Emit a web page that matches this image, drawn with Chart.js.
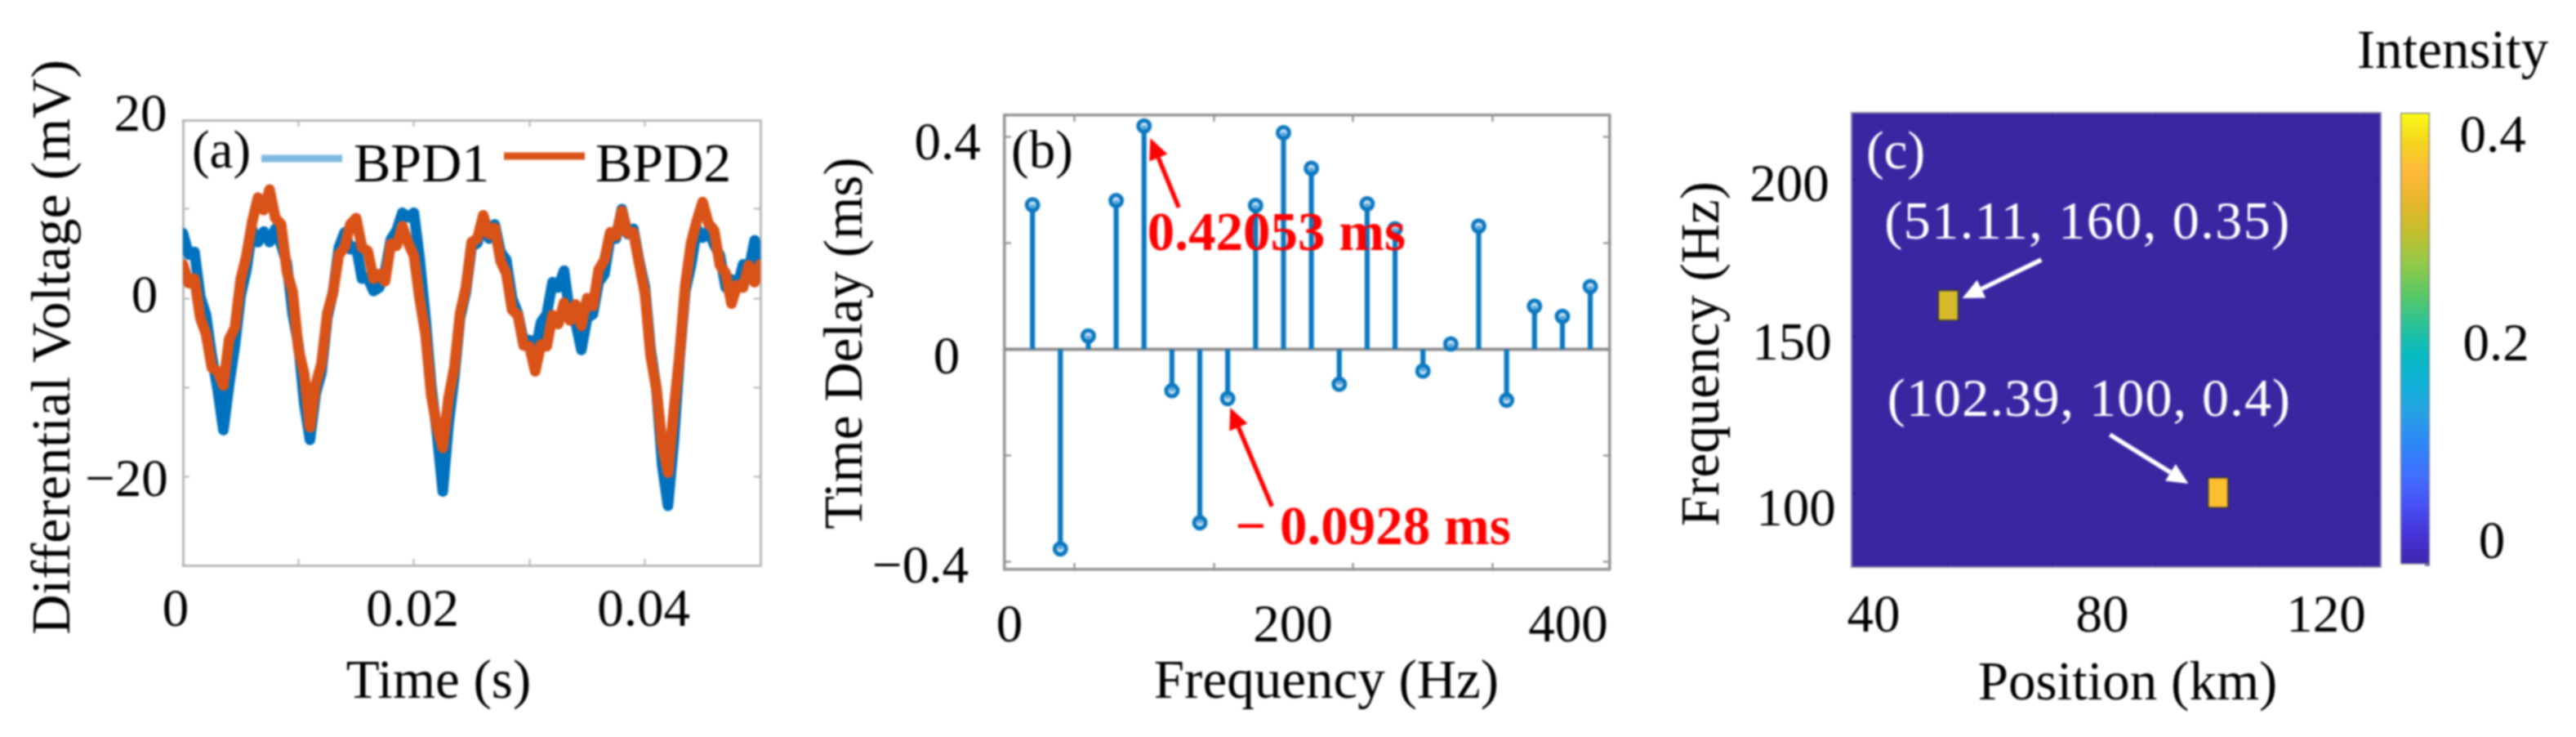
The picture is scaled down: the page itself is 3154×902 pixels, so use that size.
<!DOCTYPE html>
<html>
<head>
<meta charset="utf-8">
<script src="https://cdn.jsdelivr.net/npm/chart.js@4"></script>
<style>
html,body{margin:0;padding:0;background:#fff;width:3154px;height:902px;overflow:hidden}
canvas{position:absolute;left:0;top:0;filter:blur(0.9px)}
</style>
</head>
<body>
<canvas id="ca" width="3154" height="902"></canvas>
<canvas id="cb" width="3154" height="902"></canvas>
<canvas id="cc" width="3154" height="902"></canvas>
<canvas id="cd" width="3154" height="902"></canvas>
<script>
// ---------- DATA ----------
const timeStep = 0.0005;
const bpd1 = [7.3,4.9,5.2,0.2,-1.9,-6.5,-10.2,-14.8,-9.7,-5.3,0.3,3.2,7.7,6.3,7.5,6.3,7.8,6.0,3.9,-1.8,-5.2,-11.8,-15.9,-10.7,-8.3,-2.2,0.7,5.7,7.4,5.5,5.8,2.2,2.3,0.8,1.2,3.0,6.6,7.6,9.6,9.1,9.6,4.4,-2.2,-9.8,-15.2,-21.7,-14.2,-8.8,-2.2,0.7,5.8,6.2,8.8,6.7,8.3,5.2,4.3,0,-1.7,-4.8,-4.7,-6.1,-2.7,-1.8,1.8,1.2,3.1,-1.8,-2.7,-5.8,-2.2,-1.8,1.8,2.7,6.8,6.7,10.0,7.2,7.8,4.2,1.3,-5.8,-10.2,-18.8,-23.3,-16.2,-6.8,0.8,3.7,7.8,6.8,7.6,6.0,4.8,1.2,2.1,1.2,3.8,3.2,6.5,3.7];
const bpd2 = [3.8,1.7,2.2,-2.2,-4.0,-7.8,-8.2,-9.8,-4.6,-3.3,2.1,4.8,8.6,11.3,9.9,12.2,9.0,8.3,3.0,0.7,-5.7,-8.5,-14.5,-9.7,-7.3,-1.7,0.7,4.9,5.7,8.3,9.0,5.7,5.3,2.2,2.7,1.9,6.1,5.9,8.1,6.2,4.8,-0.1,-4.0,-10.9,-14.5,-16.8,-11.2,-7.8,-1.7,1.2,6.3,6.7,9.3,7.2,7.9,4.2,2.8,-1.3,-1.9,-5.3,-5.4,-8.2,-5.2,-5.4,-1.9,-2.9,-0.5,-2.5,-0.7,-3.1,0,-0.9,3.2,4.3,7.4,7.0,9.8,7.3,7.4,3.9,0.6,-6.5,-10.2,-16.4,-19.6,-12.7,-6.3,1.5,6.2,8.7,10.8,8.4,7.6,3.7,2.8,-0.6,1.5,1.2,3.7,1.8,3.8];
const stemFreq = [20,40,60,80,100,120,140,160,180,200,220,240,260,280,300,320,340,360,380,400,420];
const stemDelay = [0.272,-0.376,0.025,0.28,0.42053,-0.078,-0.327,-0.0928,0.271,0.408,0.341,-0.066,0.274,0.227,-0.041,0.010,0.232,-0.096,0.081,0.062,0.118];
const cellPos = [50.1,102.0];
const cellFreq = [160,100];
const cellColor = ['#d4b92b','#fcbd2f'];
const cellFreqHalf = 5;
const colorbarMax = 0.4514;
const colorbarStops = ['#3e26a8','#4733d9','#4852f3','#4070fe','#2e87f7','#28a0e4','#10b2d6','#06bbc0','#2dc296','#5cc863','#93ca4a','#c2bf2f','#e4b82a','#fdb83a','#f5d420','#f9fb15'];

const axXTicks=[0,0.01,0.02,0.03,0.04,0.05], axYTicks=[20,10,0,-10,-20,-30];
const axXLabels={0:'0',0.02:'0.02',0.04:'0.04'}, axYLabels={20:'20',0:'0','-20':'−20'};
const bxXTicks=[0,100,200,300,400], bxYTicks=[0.4,0.2,0,-0.2,-0.4];
const bxXLabels={0:'0',200:'200',400:'400'}, bxYLabels={0.4:'0.4',0:'0','-0.4':'−0.4'};
const cxXTicks=[40,60,80,100,120], cxYTicks=[200,150,100];
const cxXLabels={40:'40',80:'80',120:'120'}, cxYLabels={200:'200',150:'150',100:'100'};
const cbTicks=[0.4,0.3,0.2,0.1,0], cbLabels={0.4:'0.4',0.2:'0.2',0:'0'};

// ---------- LAYOUT ----------
const W=3154,H=902;
const boxA={L:224,T:147,R:931,B:692}, boxB={L:1230,T:141,R:1971,B:697}, boxC={L:2267,T:138,R:2915,B:694}, boxD={L:2939,T:138,R:2975,B:691};
const SERIF='"Liberation Serif"';
const labelPos={
 ax:{'0':[215,749],'0.02':[505,749],'0.04':[788,749]}, ay:{'20':[172,143],'0':[177,365],'−20':[155,590]},
 bx:{'0':[1236,768],'200':[1583,768],'400':[1920,768]}, by:{'0.4':[1160,178],'0':[1159,440],'−0.4':[1127,696]},
 cx:{'40':[2294,756],'80':[2574,756],'120':[2848,756]}, cy:{'200':[2191,229],'150':[2194,423],'100':[2199,626]},
 dy:{'0.4':[3052,169],'0.2':[3056,424],'0':[3051,666]}
};
Chart.defaults.font.family=SERIF;
Chart.defaults.color='#000';

function axes(box,xr,yr,xt,yt,xl,yl,st,titleX,titleY){
 const grid=(len)=>({drawOnChartArea:false,drawTicks:true,tickLength:len,tickColor:st.tick,tickWidth:st.tickW,lineWidth:1,color:st.tick});
 const border={display:true,color:st.line,width:st.lineW};
 const lab=(map)=>(v)=>{const k=String(v);return k in map?map[k]:''};
 const set=(arr)=>(s)=>{s.ticks=arr.map(v=>({value:v}))};
 const tick={font:{size:65,lineHeight:1},color:'#000',autoSkip:false,maxRotation:0,minRotation:0};
 return {
  x:{type:'linear',position:'bottom',min:xr[0],max:xr[1],offset:false,grid:grid(-st.tickL),border,afterBuildTicks:set(xt),
     ticks:{...tick,callback:lab(xl)},afterFit:s=>{s.height=H-box.B},
     title:{display:true,text:titleX[0],font:{size:67,lineHeight:1},color:'#000',padding:{top:0,bottom:H-titleX[1]-33.5}}},
  y:{type:'linear',position:'left',min:yr[0],max:yr[1],grid:grid(-st.tickL),border,afterBuildTicks:set(yt),
     ticks:{...tick,callback:lab(yl)},afterFit:s=>{s.width=box.L},
     title:{display:true,text:titleY[0],font:{size:titleY[2],lineHeight:1},color:'#000',padding:{top:titleY[1]-titleY[2]/2,bottom:0}}},
  x2:{type:'linear',position:'top',min:xr[0],max:xr[1],offset:false,grid:grid(-st.tickL),border,afterBuildTicks:set(xt),ticks:{display:false},afterFit:s=>{s.height=0}},
  y2:{type:'linear',position:'right',min:yr[0],max:yr[1],grid:grid(-st.tickL),border,afterBuildTicks:set(yt),ticks:{display:false},afterFit:s=>{s.width=0}}
 };
}

const panelPlugin={
 id:'panel',
 beforeDraw(chart,_a,o){
  const ctx=chart.ctx,a=chart.chartArea;
  if(o.areaFill){ctx.save();ctx.fillStyle=o.areaFill;ctx.fillRect(a.left,a.top,a.right-a.left,a.bottom-a.top);ctx.restore();}
  for(const [id,key] of Object.entries(o.labelKeys||{})){
   const s=chart.scales[id],pos=labelPos[key];
   for(const it of s.getLabelItems()){
    const p=pos[it.label];
    if(p){it.options.textAlign='center';it.options.textBaseline='middle';it.options.translation=[p[0],p[1]];it.textOffset=0;}
   }
  }
  for(const [id,c] of Object.entries(o.titleCenter||{})){
   const s=chart.scales[id];
   if(s._wrapped) continue; s._wrapped=true;
   const orig=s.drawTitle;
   s.drawTitle=function(){
    const keep=[this.left,this.right,this.top,this.bottom];
    if(id==='x'){this.left=c-600;this.right=c+600;} else {this.top=c-600;this.bottom=c+600;}
    orig.call(this);
    [this.left,this.right,this.top,this.bottom]=keep;
   };
  }
 },
 afterDraw(chart,_a,o){
  const ctx=chart.ctx;
  ctx.save();
  for(const ar of o.arrows||[]){
   const X=chart.scales.x,Y=chart.scales.y;
   const x0=X.getPixelForValue(ar.from[0]),y0=Y.getPixelForValue(ar.from[1]);
   const x1=X.getPixelForValue(ar.to[0]),y1=Y.getPixelForValue(ar.to[1]);
   const t=Math.atan2(y1-y0,x1-x0),hl=ar.head||26,hw=(ar.headW||24)/2;
   const bx=x1-hl*Math.cos(t),by=y1-hl*Math.sin(t);
   ctx.strokeStyle=ar.color;ctx.fillStyle=ar.color;ctx.lineWidth=ar.w||5.5;
   ctx.beginPath();ctx.moveTo(x0,y0);ctx.lineTo(bx,by);ctx.stroke();
   ctx.beginPath();ctx.moveTo(x1,y1);ctx.lineTo(bx-hw*Math.sin(t),by+hw*Math.cos(t));ctx.lineTo(bx+hw*Math.sin(t),by-hw*Math.cos(t));ctx.closePath();ctx.fill();
  }
  for(const l of o.legend||[]){
   const ds=chart.data.datasets[l.index];
   ctx.strokeStyle=l.color;ctx.lineWidth=9;
   ctx.beginPath();ctx.moveTo(l.x0,l.y);ctx.lineTo(l.x1,l.y);ctx.stroke();
   ctx.fillStyle='#000';ctx.font='68px '+SERIF;ctx.textAlign='left';ctx.textBaseline='middle';
   ctx.fillText(ds.label,l.tx,l.ty);
  }
  for(const t of o.texts||[]){
   ctx.fillStyle=t.color||'#000';ctx.font=(t.bold?'bold ':'')+(t.size||65)+'px '+SERIF;
   ctx.textAlign='center';ctx.textBaseline='middle';
   ctx.letterSpacing=t.spacing||'0px';
   ctx.fillText(t.text,t.x,t.y);
   ctx.letterSpacing='0px';
  }
  ctx.restore();
 }
};
Chart.register(panelPlugin);

function base(box){
 return {responsive:false,animation:false,devicePixelRatio:1,events:[],
  layout:{autoPadding:false,padding:{left:0,top:box.T,right:W-box.R,bottom:0}}};
}

// ---------- PANEL A ----------
new Chart(document.getElementById('ca'),{type:'line',
 data:{datasets:[
  {label:'BPD1',data:bpd1.map((v,i)=>({x:timeStep*i,y:v})),borderColor:'#0072BD',borderWidth:13,pointRadius:0,tension:0,borderJoinStyle:'round',borderCapStyle:'round',order:1},
  {label:'BPD2',data:bpd2.map((v,i)=>({x:timeStep*i,y:v})),borderColor:'#D95319',borderWidth:13,pointRadius:0,tension:0,borderJoinStyle:'round',borderCapStyle:'round',order:0}
 ]},
 options:{...base(boxA),
  scales:axes(boxA,[0,0.05],[-30,20],axXTicks,axYTicks,axXLabels,axYLabels,{line:'#b8b8b8',lineW:3,tick:'#b0b0b0',tickW:2,tickL:8},['Time (s)',836],['Differential Voltage (mV)',67,68]),
  plugins:{legend:{display:false},tooltip:{enabled:false},panel:{
   labelKeys:{x:'ax',y:'ay'},titleCenter:{x:537,y:425},
   legend:[{index:0,color:'#7db9e2',x0:320,x1:419,y:194,tx:433,ty:204},{index:1,color:'#D95319',x0:617,x1:716,y:191,tx:729,ty:204}],
   texts:[{text:'(a)',x:271,y:188,size:65}]
  }}
 }
});

// ---------- PANEL B ----------
new Chart(document.getElementById('cb'),{type:'bar',
 data:{datasets:[
  {type:'line',label:'Peaks',data:stemFreq.map((f,i)=>({x:f,y:stemDelay[i]})),showLine:false,pointStyle:'circle',pointRadius:7,pointBorderWidth:5,pointBorderColor:'#0a77bf',pointBackgroundColor:'rgba(150,200,235,0.6)',order:0},
  {type:'bar',label:'Stems',data:stemFreq.map((f,i)=>({x:f,y:stemDelay[i]})),backgroundColor:'#0a77bf',barThickness:5.5,grouped:false,order:1},
  {type:'line',label:'Baseline',data:[{x:0,y:0},{x:434,y:0}],borderColor:'#8c8c8c',borderWidth:4,pointRadius:0,order:2}
 ]},
 options:{...base(boxB),
  scales:axes(boxB,[0,434],[-0.415,0.441],bxXTicks,bxYTicks,bxXLabels,bxYLabels,{line:'#939393',lineW:3.5,tick:'#808080',tickW:2,tickL:8},['Frequency (Hz)',836],['Time Delay (ms)',1037,67]),
  plugins:{legend:{display:false},tooltip:{enabled:false},panel:{
   labelKeys:{x:'bx',y:'by'},titleCenter:{x:1624,y:420},
   arrows:[{from:[124.9,0.267],to:[104.5,0.398],color:'#ff0000'},{from:[191.7,-0.296],to:[161.8,-0.11],color:'#ff0000'}],
   texts:[{text:'(b)',x:1276,y:188,size:65},
          {text:'0.42053 ms',x:1563,y:289,size:67,bold:true,color:'#ff0000'},
          {text:'− 0.0928 ms',x:1681,y:649,size:67,bold:true,color:'#ff0000'}]
  }}
 }
});

// ---------- PANEL C ----------
new Chart(document.getElementById('cc'),{type:'bar',
 data:{datasets:cellPos.map((p,i)=>({label:'Cell '+(i+1),data:[{x:p,y:[cellFreq[i]-cellFreqHalf,cellFreq[i]+cellFreqHalf]}],backgroundColor:cellColor[i],borderColor:'#3a3a3a',borderWidth:2,borderSkipped:false,barThickness:26,grouped:false}))},
 options:{...base(boxC),
  scales:axes(boxC,[31.5,133.3],[76.2,221.7],cxXTicks,cxYTicks,cxXLabels,cxYLabels,{line:'#8a88a8',lineW:2,tick:'#2c1f86',tickW:2,tickL:6},['Position (km)',838],['Frequency (Hz)',2086,67]),
  plugins:{legend:{display:false},tooltip:{enabled:false},panel:{
   areaFill:'#3b26a2',labelKeys:{x:'cx',y:'cy'},titleCenter:{x:2605,y:433},
   arrows:[{from:[68.0,174.6],to:[52.8,162.3],color:'#ffffff'},{from:[81.2,118.6],to:[96.3,102.9],color:'#ffffff'}],
   texts:[{text:'(c)',x:2321,y:189,size:65,color:'#fff'},
          {text:'(51.11, 160, 0.35)',x:2556,y:275,size:66,color:'#fff',spacing:'1.5px'},
          {text:'(102.39, 100, 0.4)',x:2558,y:492,size:66,color:'#fff',spacing:'1.2px'}]
  }}
 }
});

// ---------- COLORBAR ----------
new Chart(document.getElementById('cd'),{type:'bar',
 data:{labels:['Intensity'],datasets:[{label:'Intensity',data:[[0,colorbarMax]],barPercentage:1,categoryPercentage:1,borderSkipped:false,borderWidth:1.5,borderColor:'#77778a',
  backgroundColor:(c)=>{const a=c.chart.chartArea;if(!a)return colorbarStops[0];const g=c.chart.ctx.createLinearGradient(0,a.bottom,0,a.top);colorbarStops.forEach((s,i)=>g.addColorStop(i/(colorbarStops.length-1),s));return g;}}]},
 options:{responsive:false,animation:false,devicePixelRatio:1,events:[],
  layout:{autoPadding:false,padding:{left:boxD.L,top:boxD.T,right:0,bottom:H-boxD.B}},
  scales:{x:{display:false},
   y:{type:'linear',position:'right',min:0,max:colorbarMax,
      grid:{drawOnChartArea:false,drawTicks:true,tickLength:-6,tickColor:'#3b4a90',tickWidth:2,color:'#3b4a90'},border:{display:false},
      afterBuildTicks:s=>{s.ticks=cbTicks.map(v=>({value:v}))},afterFit:s=>{s.width=W-boxD.R},
      ticks:{font:{size:65,lineHeight:1},color:'#000',autoSkip:false,maxRotation:0,callback:v=>{const k=String(v);return k in cbLabels?cbLabels[k]:''}}}},
  plugins:{legend:{display:false},tooltip:{enabled:false},panel:{labelKeys:{y:'dy'},texts:[{text:'Intensity',x:3003,y:65,size:67}]}}
 }
});
</script>
</body>
</html>
